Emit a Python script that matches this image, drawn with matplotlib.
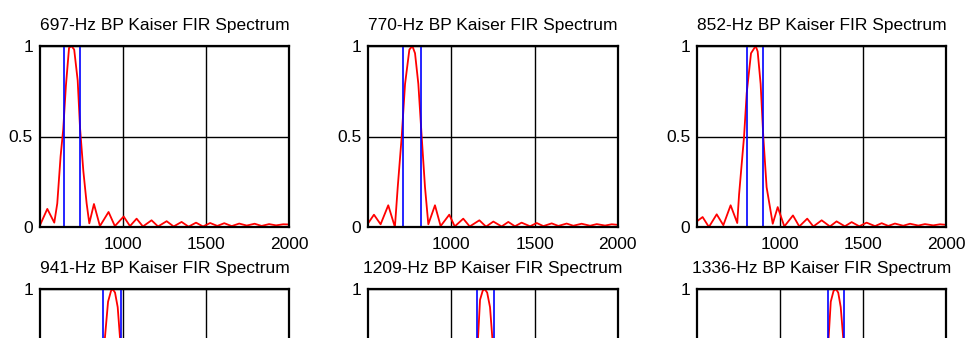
import matplotlib
matplotlib.use('Agg')
import matplotlib.pyplot as plt

plt.rcParams['font.family'] = ['Liberation Sans', 'DejaVu Sans']

# band centre of each filter (titles)
tones = [697, 770, 852, 941, 1209, 1336]

# passband edges (blue lines)
edges = [[645, 743], [710, 817], [798, 898],
         [882, 987], [1152, 1256], [1286, 1383]]

# magnitude spectra, points
f697 = [500, 544, 586, 604, 624, 640, 656, 675, 690, 706, 727, 741, 761, 781, 797,
        825, 861, 913, 951, 1004, 1042, 1082, 1120, 1172, 1211, 1263, 1305, 1353, 1395,
        1440, 1482, 1525, 1568, 1610, 1655, 1700, 1745, 1793, 1835, 1880, 1922, 1965, 2000]
m697 = [0.01, 0.10, 0.024, 0.13, 0.39, 0.54, 0.78, 0.99, 1.0, 0.98, 0.81, 0.55, 0.31, 0.13, 0.02,
        0.127, 0.005, 0.083, 0.005, 0.058, 0.005, 0.046, 0.003, 0.037, 0.003, 0.032, 0.003, 0.028, 0.002,
        0.024, 0.003, 0.022, 0.006, 0.021, 0.005, 0.019, 0.008, 0.018, 0.006, 0.016, 0.009, 0.015, 0.014]

f770 = [500, 534, 574, 620, 660, 677, 701, 721, 747, 765, 781, 801, 821, 841, 861,
        901, 935, 987, 1020, 1071, 1110, 1168, 1208, 1252, 1302, 1342, 1382, 1422, 1473,
        1513, 1553, 1603, 1643, 1693, 1733, 1783, 1834, 1874, 1924, 1964, 2000]
m770 = [0.022, 0.068, 0.015, 0.12, 0.0, 0.22, 0.5, 0.79, 0.98, 1.0, 0.96, 0.79, 0.5, 0.22, 0.015,
        0.12, 0.005, 0.068, 0.003, 0.046, 0.003, 0.037, 0.002, 0.03, 0.003, 0.028, 0.004, 0.024, 0.004,
        0.022, 0.005, 0.02, 0.006, 0.019, 0.007, 0.018, 0.007, 0.016, 0.008, 0.015, 0.012]

f852 = [500, 532, 570, 617, 657, 701, 741, 752, 782, 798, 824, 852, 864, 882, 898, 918, 955,
        985, 1025, 1077, 1115, 1163, 1200, 1250, 1300, 1340, 1390, 1431, 1477, 1521, 1572,
        1612, 1652, 1692, 1742, 1783, 1833, 1873, 1923, 1964, 2000]
m852 = [0.033, 0.055, 0.0, 0.07, 0.01, 0.12, 0.022, 0.18, 0.5, 0.74, 0.96, 1.0, 0.97, 0.79, 0.5, 0.22, 0.018,
        0.11, 0.003, 0.064, 0.003, 0.046, 0.003, 0.037, 0.003, 0.031, 0.004, 0.027, 0.004, 0.024, 0.005,
        0.021, 0.006, 0.019, 0.007, 0.018, 0.008, 0.016, 0.009, 0.015, 0.012]

f941 = [500, 560, 650, 740, 790, 830, 845, 870, 891, 910, 928, 938, 952, 968, 982, 1000, 1020,
        1043, 1075, 1115, 1160, 1205, 1300, 1400, 1500, 1600, 1700, 1800, 1900, 2000]
m941 = [0.02, 0.03, 0.04, 0.06, 0.10, 0.02, 0.18, 0.5, 0.73, 0.93, 0.99, 1.0, 0.98, 0.9, 0.73, 0.5, 0.22,
        0.018, 0.11, 0.003, 0.06, 0.003, 0.035, 0.03, 0.025, 0.022, 0.02, 0.018, 0.016, 0.014]

f1209 = [500, 700, 900, 1000, 1060, 1100, 1115, 1140, 1160, 1172, 1188, 1200, 1215, 1232, 1246,
         1262, 1285, 1310, 1345, 1385, 1430, 1475, 1600, 1700, 1800, 1900, 2000]
m1209 = [0.01, 0.02, 0.03, 0.04, 0.06, 0.10, 0.02, 0.45, 0.73, 0.94, 0.99, 1.0, 0.98, 0.9, 0.73,
         0.5, 0.22, 0.018, 0.11, 0.003, 0.06, 0.003, 0.03, 0.025, 0.02, 0.018, 0.015]

f1336 = [500, 800, 1050, 1150, 1190, 1230, 1245, 1270, 1292, 1305, 1322, 1336, 1350, 1365, 1380,
         1397, 1420, 1443, 1475, 1515, 1560, 1605, 1700, 1800, 1900, 2000]
m1336 = [0.01, 0.02, 0.03, 0.05, 0.10, 0.02, 0.18, 0.5, 0.73, 0.93, 0.99, 1.0, 0.98, 0.9, 0.73,
         0.5, 0.22, 0.018, 0.11, 0.003, 0.06, 0.003, 0.03, 0.025, 0.02, 0.016]

spectra = [(f697, m697), (f770, m770), (f852, m852),
           (f941, m941), (f1209, m1209), (f1336, m1336)]

xticks = [1000, 1500, 2000]
yticks = [0, 0.5, 1]
yticklabels = ['0', '0.5', '1']

W, H = 968, 338
fig = plt.figure(figsize=(W / 100, H / 100), dpi=100)

# axes boxes in pixels (left, right) and (top, bottom); 2nd row runs off the figure
cols = [(40, 289), (368.3, 617.7), (697.3, 946)]
rows = [(46, 227), (289, 470)]

for k in range(6):
    r, c = divmod(k, 3)
    x0, x1 = cols[c]
    y0, y1 = rows[r]
    ax = fig.add_axes([x0 / W, 1 - y1 / H, (x1 - x0) / W, (y1 - y0) / H])
    f, m = spectra[k]
    ax.plot(f, m, color='red', lw=1.3, zorder=3)
    for e in edges[k]:
        ax.axvline(e, color='blue', lw=1.2, zorder=4)
    ax.set_xlim(500, 2000)
    ax.set_ylim(0, 1)
    ax.set_xticks(xticks)
    ax.set_yticks(yticks)
    ax.grid(True, color='black', lw=1.0, zorder=1)
    ax.set_axisbelow(True)
    ax.tick_params(length=0, labelsize=12.5)
    ax.tick_params(axis='x', pad=7)
    ax.tick_params(axis='y', pad=5)
    if r == 0:
        ax.set_yticklabels(yticklabels)
    else:
        # lower part of this row is outside the picture
        ax.set_yticklabels(['', '', '1'])
        ax.tick_params(axis='x', labelbottom=False)
    for s in ax.spines.values():
        s.set_linewidth(1.6)
        s.set_zorder(5)
    ax.set_title(f'{tones[k]}-Hz BP Kaiser FIR Spectrum', fontsize=12.5, pad=11.5)

fig.savefig('out.png', dpi=100)
